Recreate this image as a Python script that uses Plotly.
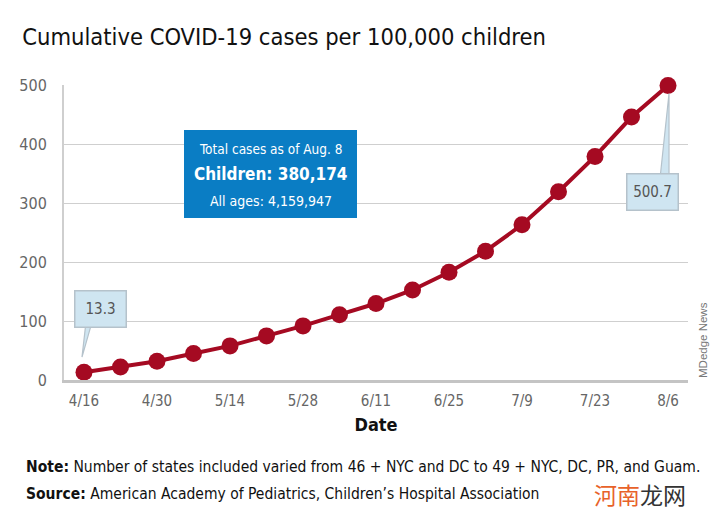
import plotly.graph_objects as go

dates = ["2020-04-16", "2020-04-23", "2020-04-30", "2020-05-07", "2020-05-14", "2020-05-21",
         "2020-05-28", "2020-06-04", "2020-06-11", "2020-06-18", "2020-06-25", "2020-07-02",
         "2020-07-09", "2020-07-16", "2020-07-23", "2020-07-30", "2020-08-06"]
cases_per_100k = [13.3, 22, 32, 45, 58, 75, 92, 111, 130, 153, 183, 219, 264, 320, 380, 447, 500.7]
tick_dates = ["2020-04-16", "2020-04-30", "2020-05-14", "2020-05-28", "2020-06-11",
              "2020-06-25", "2020-07-09", "2020-07-23", "2020-08-06"]
tick_labels = ["4/16", "4/30", "5/14", "5/28", "6/11", "6/25", "7/9", "7/23", "8/6"]
y_ticks = [0, 100, 200, 300, 400, 500]
info_lines = ["Total cases as of Aug. 8", "<b>Children: 380,174</b>", "All ages: 4,159,947"]

FONT = "DejaVu Sans Condensed, Liberation Sans Narrow, Arial Narrow, sans-serif"
RED = "#a50a22"
CALLOUT_FILL = "#cfe5f1"
CALLOUT_LINE = "#b5c2cb"
BLUE = "#0a7dc4"


def px(xp):
    return (xp - 64) / 624


def py(yp):
    return (380 - yp) / 295


fig = go.Figure()
fig.add_trace(go.Scatter(
    x=dates, y=cases_per_100k, mode="lines+markers",
    line=dict(color=RED, width=4),
    marker=dict(color=RED, size=17),
    cliponaxis=False, hoverinfo="x+y"))

fig.update_layout(
    width=712, height=520,
    margin=dict(l=56, r=32, t=77, b=148),
    paper_bgcolor="white", plot_bgcolor="white",
    showlegend=False,
    font=dict(family=FONT, color="#555555", size=16),
    title=dict(text="Cumulative COVID-19 cases per 100,000 children",
               x=0.02, xanchor="left", y=0.944, yanchor="middle",
               font=dict(family=FONT, size=23.5, color="#111111")),
    xaxis=dict(
        type="date", range=["2020-04-12 04:00", "2020-08-09 20:00"],
        tickvals=tick_dates, ticktext=tick_labels,
        showgrid=False, zeroline=False,
        showline=True, linecolor="#c4c4c4", linewidth=3,
        ticks="", ticklabelstandoff=5,
        tickfont=dict(size=15, color="#666666"),
        title=dict(text="<b>Date</b>", standoff=10, font=dict(size=18, color="#111111"))),
    yaxis=dict(
        range=[0, 501.5], tickvals=y_ticks,
        showgrid=True, gridcolor="#cfcfcf", gridwidth=1,
        zeroline=False, showline=True, linecolor="#cfcfcf", linewidth=2,
        ticks="", ticklabelstandoff=12,
        tickfont=dict(size=16, color="#666666")),
)

# callout pointer wedges (pixel offsets from the data point)
fig.add_shape(type="path", xref="x", yref="y", xsizemode="pixel", ysizemode="pixel",
              xanchor=dates[0], yanchor=cases_per_100k[0],
              path="M 2,50 L -2,15 L 8,50 Z",
              fillcolor=CALLOUT_FILL, line=dict(color=CALLOUT_LINE, width=1.2), layer="above")
fig.add_shape(type="path", xref="x", yref="y", xsizemode="pixel", ysizemode="pixel",
              xanchor=dates[-1], yanchor=cases_per_100k[-1],
              path="M -8,-93 L 1,-8 L 1,-93 Z",
              fillcolor=CALLOUT_FILL, line=dict(color=CALLOUT_LINE, width=1.2), layer="above")

# callout boxes
fig.add_annotation(x=dates[0], y=cases_per_100k[0], text="13.3",
                   xshift=17, yshift=63, showarrow=False,
                   bgcolor=CALLOUT_FILL, bordercolor=CALLOUT_LINE,
                   borderwidth=1.5, width=48, height=33,
                   font=dict(size=15, color="#555555"))
fig.add_annotation(x=dates[-1], y=cases_per_100k[-1], text="500.7",
                   xshift=-16, yshift=-107, showarrow=False,
                   bgcolor=CALLOUT_FILL, bordercolor=CALLOUT_LINE,
                   borderwidth=1.5, width=48, height=33,
                   font=dict(size=15, color="#555555"))

# blue info box
fig.add_shape(type="rect", xref="paper", yref="paper",
              x0=px(184), x1=px(357), y0=py(218), y1=py(130),
              fillcolor=BLUE, line=dict(width=0), layer="above")
for txt, yy, sz in zip(info_lines, [149, 174, 201], [13.5, 17, 14]):
    fig.add_annotation(xref="paper", yref="paper", x=px(270.5), y=py(yy),
                       xanchor="center", yanchor="middle", showarrow=False,
                       text=txt, font=dict(color="white", family=FONT, size=sz))

# side credit
fig.add_annotation(xref="paper", yref="paper", x=px(703), y=0.0,
                   xanchor="center", yanchor="bottom", showarrow=False,
                   text="MDedge News", textangle=-90,
                   font=dict(size=11.5, color="#777777", family="Liberation Sans, Arial, sans-serif"))

# notes
fig.add_annotation(xref="paper", yref="paper", x=px(24), y=py(467),
                   xanchor="left", yanchor="middle", showarrow=False,
                   text="<b>Note:</b> Number of states included varied from 46 + NYC and DC to 49 + NYC, DC, PR, and Guam.",
                   font=dict(size=15.5, color="#111111"))
fig.add_annotation(xref="paper", yref="paper", x=px(24), y=py(494),
                   xanchor="left", yanchor="middle", showarrow=False,
                   text="<b>Source:</b> American Academy of Pediatrics, Children’s Hospital Association",
                   font=dict(size=15.5, color="#111111"))
fig.add_annotation(xref="paper", yref="paper", x=px(640), y=py(494),
                   xanchor="center", yanchor="middle", showarrow=False,
                   text="<span style='color:#e8622a'>河南</span><span style='color:#333333'>龙网</span>",
                   font=dict(size=23, family="Noto Sans CJK SC"))

fig.write_html("out.html")
